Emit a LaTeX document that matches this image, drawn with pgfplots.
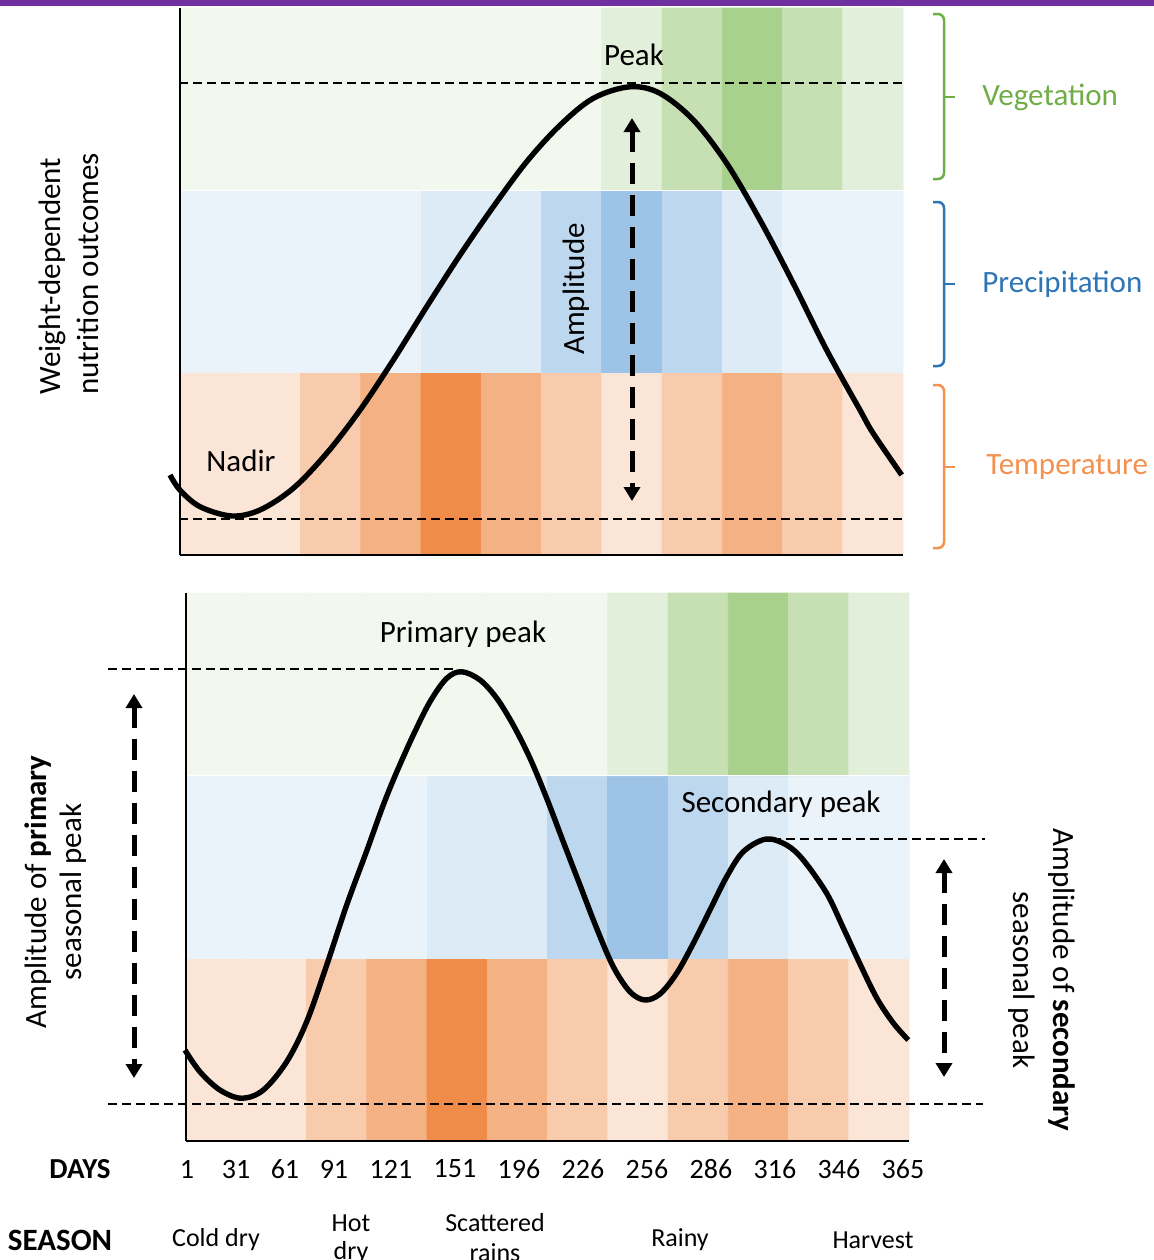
\documentclass[border=0pt]{standalone}
\usepackage{fontspec}
\setmainfont{Carlito}
\usepackage{pgfplots}
\pgfplotsset{compat=1.18}
\usepackage{pgfplotstable}
\usetikzlibrary{arrows.meta}

\definecolor{vegc}{HTML}{70AD47}
\definecolor{prec}{HTML}{2E75B6}
\definecolor{tmpc}{HTML}{F39150}
\definecolor{purp}{HTML}{7030A0}

\newcommand\fs[1]{\fontsize{#1}{#1}\selectfont}

\pgfplotsset{
  colormap={cells}{
    rgb255=(243,248,239) rgb255=(226,239,218) rgb255=(198,224,180) rgb255=(169,209,142)
    rgb255=(234,242,250) rgb255=(221,235,247) rgb255=(189,215,238) rgb255=(157,195,230)
    rgb255=(251,229,214) rgb255=(248,203,173) rgb255=(244,177,131) rgb255=(240,140,74)
  },
  panel/.style={
    scale only axis, width=361.5pt,
    xmin=0, xmax=12, ymin=0, ymax=3,
    axis x line=bottom, axis y line=left,
    axis line style={-, line width=1.25pt},
    axis on top, clip=false,
    ytick=\empty, major tick length=0pt,
    colormap name=cells,
  },
  curve/.style={black, line width=2.7pt, smooth, tension=0.55},
}

% 3 rows (temperature, precipitation, vegetation) x 12 periods, c = colour index
\pgfplotstableread{
x y c
0.5 0.5 8
1.5 0.5 8
2.5 0.5 9
3.5 0.5 10
4.5 0.5 11
5.5 0.5 10
6.5 0.5 9
7.5 0.5 8
8.5 0.5 9
9.5 0.5 10
10.5 0.5 9
11.5 0.5 8
0.5 1.5 4
1.5 1.5 4
2.5 1.5 4
3.5 1.5 4
4.5 1.5 5
5.5 1.5 5
6.5 1.5 6
7.5 1.5 7
8.5 1.5 6
9.5 1.5 5
10.5 1.5 4
11.5 1.5 4
0.5 2.5 0
1.5 2.5 0
2.5 2.5 0
3.5 2.5 0
4.5 2.5 0
5.5 2.5 0
6.5 2.5 0
7.5 2.5 1
8.5 2.5 2
9.5 2.5 3
10.5 2.5 2
11.5 2.5 1
}\cells

\begin{document}
\begin{tikzpicture}
\useasboundingbox (0pt,0pt) rectangle (577pt,-630pt);
\fill[purp] (0pt,0pt) rectangle (577pt,-3pt);

% top panel: single seasonal peak
\begin{axis}[panel, height=273.5pt, xtick=\empty,
    at={(90pt,-277.5pt)}, anchor=south west]
  \addplot[matrix plot*, mesh/cols=12, point meta=explicit, colormap access=direct]
    table[x=x, y=y, meta=c] {\cells};
  \draw[white, line width=0.6pt] (axis cs:0,2) -- (axis cs:12,2);
  \addplot[curve] coordinates {
    (-0.166,0.439) (0,0.356) (0.332,0.265) (0.858,0.214) (1.328,0.247)
    (1.880,0.366) (2.435,0.558) (2.988,0.795) (3.540,1.069) (4.095,1.362)
    (4.647,1.645) (5.200,1.910) (5.754,2.157) (6.307,2.357) (6.860,2.505)
    (7.469,2.568) (7.967,2.532) (8.520,2.386) (9.074,2.148) (9.627,1.837)
    (10.179,1.490) (10.733,1.124) (11.286,0.795) (11.502,0.669) (11.978,0.439)};
\end{axis}

% bottom panel: primary and secondary peaks
\begin{axis}[panel, height=274pt,
    at={(93pt,-570.5pt)}, anchor=south west,
    xtick={0.017,0.83,1.643,2.456,3.402,4.465,5.527,6.589,7.651,8.714,9.776,10.838,11.9},
    xticklabels={1,31,61,91,121,151,196,226,256,286,316,346,365},
    xticklabel style={font=\fs{14}, anchor=center, yshift=-14pt}]
  \addplot[matrix plot*, mesh/cols=12, point meta=explicit, colormap access=direct]
    table[x=x, y=y, meta=c] {\cells};
  \draw[white, line width=0.6pt] (axis cs:0,2) -- (axis cs:12,2);
  \addplot[curve] coordinates {
    (-0.017,0.498) (0.232,0.379) (0.564,0.279) (0.924,0.234) (1.283,0.279)
    (1.671,0.434) (2.003,0.653) (2.335,0.963) (2.667,1.292) (2.999,1.588)
    (3.275,1.840) (3.497,2.020) (3.773,2.223) (4.050,2.405) (4.327,2.533)
    (4.576,2.569) (4.880,2.524) (5.157,2.424) (5.432,2.277) (5.710,2.095)
    (5.987,1.876) (6.262,1.638) (6.539,1.401) (6.817,1.164) (7.092,0.954)
    (7.369,0.817) (7.618,0.772) (7.867,0.805) (8.144,0.918) (8.420,1.082)
    (8.697,1.265) (8.974,1.447) (9.250,1.584) (9.627,1.653) (9.970,1.620)
    (10.246,1.538) (10.634,1.356) (10.910,1.166) (11.187,0.969) (11.464,0.783)
    (11.739,0.646) (11.988,0.553)};
\end{axis}

\begin{scope}[x=0.5pt, y=-0.5pt]
  % reference lines
  \begin{scope}[line width=1pt, dash pattern=on 4.5pt off 2.5pt]
    \draw (179,83) -- (903,83);
    \draw (179,519) -- (903,519);
    \draw (108,669) -- (455,669);
    \draw (108,1104) -- (983,1104);
    \draw (772,839) -- (985,839);
  \end{scope}
  % amplitude arrows
  \begin{scope}[line width=2.5pt, dash pattern=on 10.5pt off 5.5pt,
      {Triangle[width=8pt,length=7pt]}-{Triangle[width=8pt,length=7pt]}]
    \draw (632,118) -- (632,501);
    \draw (134,694) -- (134,1078);
    \draw (944,859) -- (944,1077);
  \end{scope}
  % braces
  \begin{scope}[line width=1.25pt, rounded corners=3pt]
    \draw[vegc] (933,14) -- (944,14) -- (944,179) -- (933,179);
    \draw[vegc] (944,97) -- (955,97);
    \draw[prec] (933,202) -- (944,202) -- (944,366) -- (933,366);
    \draw[prec] (944,284) -- (955,284);
    \draw[tmpc] (933,385) -- (944,385) -- (944,548) -- (933,548);
    \draw[tmpc] (944,467) -- (955,467);
  \end{scope}
  \begin{scope}[every node/.style={inner sep=0pt, font=\fs{15.5}}]
    \node[anchor=west, text=vegc] at (982,97) {Vegetation};
    \node[anchor=west, text=prec] at (982,284) {Precipitation};
    \node[anchor=west, text=tmpc] at (986,467) {Temperature};
    \node at (634,55) {Peak};
    \node at (241,461) {Nadir};
    \node[rotate=90] at (576,289) {Amplitude};
    \node[rotate=90] at (52,276) {Weight-dependent};
    \node[rotate=90] at (88,274) {nutrition outcomes};
    \node at (463,634) {Primary peak};
    \node at (781,804) {Secondary peak};
    \node[rotate=90] at (38,892) {Amplitude of \textbf{primary}};
    \node[rotate=90] at (73,892) {seasonal peak};
    \node[rotate=-90] at (1062,980) {Amplitude of \textbf{secondary}};
    \node[rotate=-90] at (1022,980) {seasonal peak};
    \node[font=\fs{14.5}\bfseries] at (80,1169) {DAYS};
    \node[font=\fs{15.5}\bfseries] at (60,1240) {SEASON};
    \node[font=\fs{13}] at (216,1240) {Cold dry};
    \node[font=\fs{13}] at (351,1223) {Hot};
    \node[font=\fs{13}] at (351,1253) {dry};
    \node[font=\fs{13}] at (495,1223) {Scattered};
    \node[font=\fs{13}] at (495,1253) {rains};
    \node[font=\fs{13}] at (680,1240) {Rainy};
    \node[font=\fs{13}] at (873,1240) {Harvest};
  \end{scope}
\end{scope}
\end{tikzpicture}
\end{document}
